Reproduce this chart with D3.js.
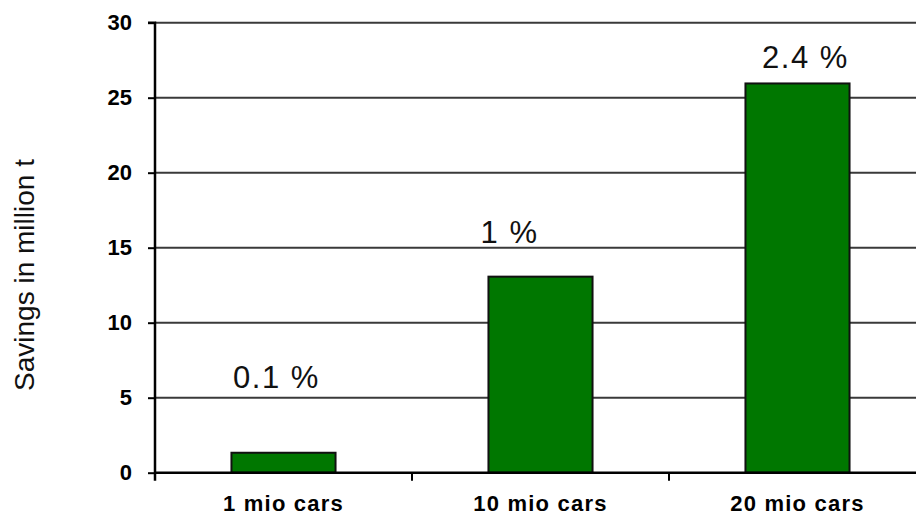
<!DOCTYPE html>
<html>
<head>
<meta charset="utf-8">
<script src="https://cdn.jsdelivr.net/npm/d3@7"></script>
<style>
  html, body { margin: 0; padding: 0; background: #fff; }
  svg { display: block; font-family: "Liberation Sans", Arial, sans-serif; }
</style>
</head>
<body>
<svg id="chart" width="916" height="515"></svg>
<script>
// CO2 savings by fleet size
const categories = ["1 mio cars", "10 mio cars", "20 mio cars"];
const savings = [1.33, 13.07, 25.95];
const shareLabels = ["0.1 %", "1 %", "2.4 %"];
const yTicks = [0, 5, 10, 15, 20, 25, 30];
const yTitle = "Savings in million t";

const svg = d3.select("#chart");
const W = 916, H = 515;
const plotLeft = 155, plotRight = 926, plotTop = 22.7, plotBottom = 472.7;

const x = d3.scaleBand().domain(categories).range([plotLeft, plotRight]).padding(0);
const y = d3.scaleLinear().domain([0, 30]).range([plotBottom, plotTop]);

// horizontal gridlines
svg.append("g")
  .selectAll("line")
  .data(yTicks.filter(d => d > 0))
  .join("line")
  .attr("x1", plotLeft).attr("x2", W)
  .attr("y1", d => y(d)).attr("y2", d => y(d))
  .attr("stroke", "#3a3a3a").attr("stroke-width", 2);

// bars
const barFrac = 0.405;
svg.append("g")
  .selectAll("rect")
  .data(categories)
  .join("rect")
  .attr("x", d => x(d) + x.bandwidth() * (1 - barFrac) / 2)
  .attr("width", x.bandwidth() * barFrac)
  .attr("y", (d, i) => y(savings[i]))
  .attr("height", (d, i) => y(0) - y(savings[i]))
  .attr("fill", "#007700")
  .attr("stroke", "#111")
  .attr("stroke-width", 2);

// y axis
const yAxis = d3.axisLeft(y).tickValues(yTicks).tickSize(7).tickPadding(16).tickFormat(d3.format("d"));
const gy = svg.append("g").attr("transform", `translate(${plotLeft},0)`).call(yAxis);
gy.select(".domain").attr("stroke", "#000").attr("stroke-width", 2.5)
  .attr("d", `M-7,${plotTop}H0V${plotBottom + 8}`);
gy.selectAll(".tick line").attr("stroke", "#000").attr("stroke-width", 2);
gy.selectAll(".tick text")
  .attr("font-family", "'Liberation Sans', Arial, sans-serif")
  .attr("font-size", 22).attr("font-weight", "bold").attr("fill", "#000");

// x axis: ticks on category boundaries
const gx = svg.append("g").attr("transform", `translate(0,${plotBottom})`);
gx.append("line").attr("x1", plotLeft).attr("x2", W).attr("y1", 0).attr("y2", 0)
  .attr("stroke", "#000").attr("stroke-width", 2.5);
gx.selectAll("line.tk")
  .data(categories.slice(1))
  .join("line").attr("class", "tk")
  .attr("x1", d => x(d)).attr("x2", d => x(d))
  .attr("y1", 0).attr("y2", 8)
  .attr("stroke", "#000").attr("stroke-width", 2);
gx.selectAll("text")
  .data(categories)
  .join("text")
  .attr("x", d => x(d) + x.bandwidth() / 2)
  .attr("y", 38.5)
  .attr("text-anchor", "middle")
  .attr("font-size", 22).attr("font-weight", "bold")
  .attr("letter-spacing", 1.2)
  .attr("fill", "#000")
  .text(d => d);

// share labels above bars (hand-placed offsets)
const labelDx = [-7, -31, 8];
const labelDy = [-65, -34, -15];
svg.append("g")
  .selectAll("text")
  .data(categories)
  .join("text")
  .attr("x", (d, i) => x(d) + x.bandwidth() / 2 + labelDx[i])
  .attr("y", (d, i) => y(savings[i]) + labelDy[i])
  .attr("text-anchor", "middle")
  .attr("font-size", 31)
  .attr("letter-spacing", 1.5)
  .attr("fill", "#111")
  .attr("xml:space", "preserve")
  .text((d, i) => shareLabels[i]);

// y axis title
svg.append("text")
  .attr("transform", "translate(34,275) rotate(-90)")
  .attr("text-anchor", "middle")
  .attr("font-size", 28)
  .attr("fill", "#111")
  .text(yTitle);
</script>
</body>
</html>
